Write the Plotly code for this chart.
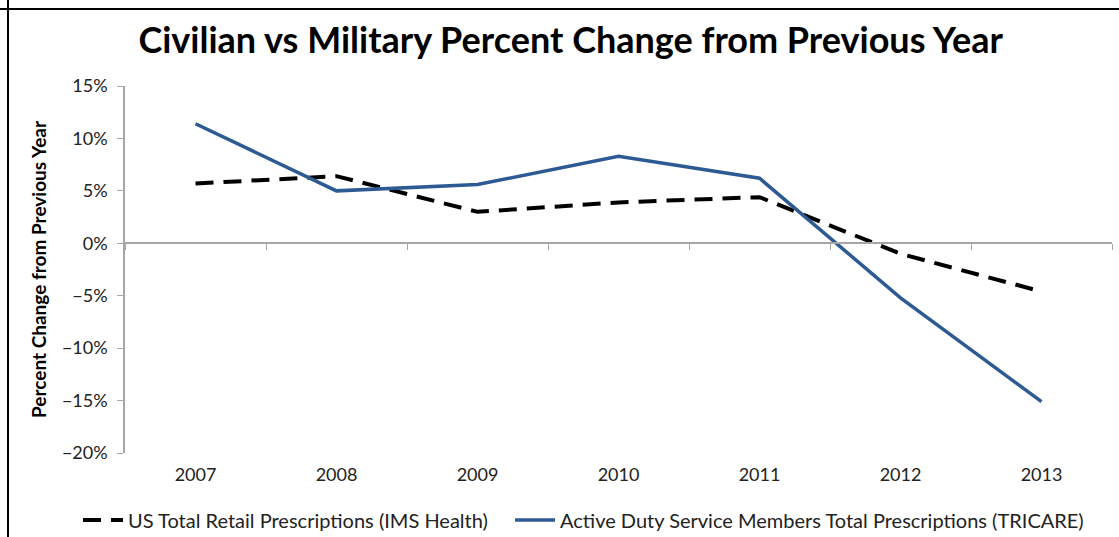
import plotly.graph_objects as go

years = ["2007", "2008", "2009", "2010", "2011", "2012", "2013"]
ims_health = [0.057, 0.064, 0.030, 0.039, 0.044, -0.010, -0.046]
tricare = [0.114, 0.050, 0.056, 0.083, 0.062, -0.052, -0.151]
y_ticks = [-0.20, -0.15, -0.10, -0.05, 0.0, 0.05, 0.10, 0.15]
y_tick_labels = ["\u221220%", "\u221215%", "\u221210%", "\u22125%", "0%", "5%", "10%", "15%"]

FONT = "Lato"
W, H = 1119, 537
fig = go.Figure()
fig.add_trace(go.Scatter(
    x=years, y=ims_health, mode="lines",
    name="US Total Retail Prescriptions (IMS Health)",
    line=dict(color="black", width=4, dash="18px,10px"), legend="legend",
))
fig.add_trace(go.Scatter(
    x=years, y=tricare, mode="lines",
    name="Active Duty Service Members Total Prescriptions (TRICARE)",
    line=dict(color="#2d5a92", width=3.5), legend="legend2",
))
# invisible trace to host the zero-line axis
fig.add_trace(go.Scatter(x=years, y=[0] * len(years), xaxis="x2", mode="lines",
                         line=dict(width=0), showlegend=False, hoverinfo="skip"))

y_min, y_max = -0.20, 0.15
zero_pos = (0 - y_min) / (y_max - y_min)

legend_common = dict(orientation="h", xref="container", yref="container",
                     xanchor="left", yanchor="middle", y=(H - 520) / H,
                     font=dict(size=20, color="#222222"), itemwidth=40,
                     bgcolor="rgba(0,0,0,0)")

fig.update_layout(
    width=W, height=H,
    margin=dict(l=125, r=7, t=86, b=84, autoexpand=False),
    paper_bgcolor="white", plot_bgcolor="white",
    font=dict(family=FONT, color="#222222", size=18),
    title=dict(text="<b>Civilian vs Military Percent Change from Previous Year</b>",
               x=0.51, xanchor="center", y=0.925, yanchor="middle",
               font=dict(size=36, color="black", family=FONT)),
    xaxis=dict(type="category", categoryorder="array", categoryarray=years,
               range=[-0.5, 6.5], showline=False, showgrid=False, ticks="",
               zeroline=False, tickfont=dict(size=18, color="#222222"),
               ticklabelstandoff=9),
    xaxis2=dict(type="category", categoryorder="array", categoryarray=years,
                range=[-0.5, 6.5], overlaying="x", anchor="free", position=zero_pos,
                showline=True, linecolor="#a6a6a6", linewidth=1.5,
                ticks="outside", tickson="boundaries", ticklen=6, tickcolor="#a6a6a6",
                showticklabels=False, showgrid=False, zeroline=False),
    yaxis=dict(range=[y_min, y_max], tickvals=y_ticks, ticktext=y_tick_labels,
               showline=True, linecolor="#a6a6a6", linewidth=1.5,
               ticks="outside", ticklen=6, tickcolor="#a6a6a6",
               showgrid=False, zeroline=False, tickfont=dict(size=18, color="#222222"),
               ticklabelstandoff=6,
               title=dict(text="<b>Percent Change from Previous Year</b>",
                          font=dict(size=19, color="black"), standoff=10)),
    legend=dict(**legend_common, x=78 / W),
    legend2=dict(**legend_common, x=510 / W),
    shapes=[
        dict(type="line", xref="paper", yref="paper", x0=-117/987, x1=-117/987,
             y0=-0.3, y1=1.5, line=dict(color="black", width=2)),
        dict(type="line", xref="paper", yref="paper", x0=-0.2, x1=1.1,
             y0=1 + 77/367, y1=1 + 77/367, line=dict(color="black", width=2)),
    ],
)

fig.write_html("out.html")
